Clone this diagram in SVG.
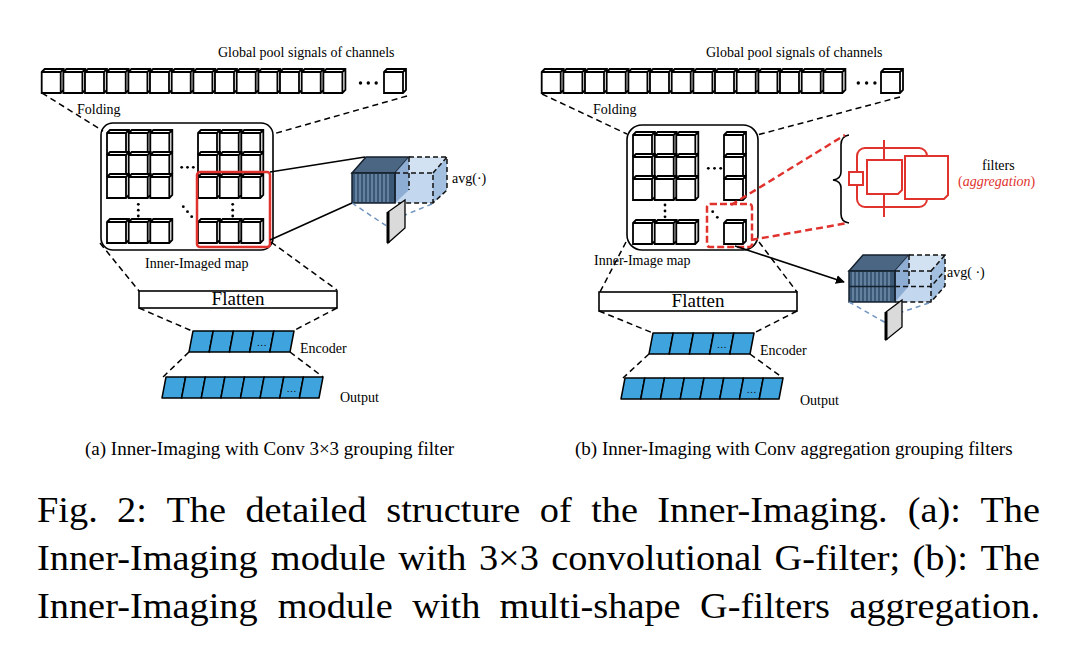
<svg xmlns="http://www.w3.org/2000/svg" width="1074" height="666" viewBox="0 0 1074 666">
<style>
text{font-family:"Liberation Serif","Times New Roman",serif;fill:#000}
.lbl{font-size:14px}
.cap{font-size:19px}
.big{font-size:35.2px}
.dash{fill:none;stroke:#000;stroke-width:1.5;stroke-dasharray:6,4}
.solid{fill:none;stroke:#000;stroke-width:1.6}
.box{fill:none;stroke:#000;stroke-width:1.6}
.cell{fill:#3fa4de;stroke:#000;stroke-width:1.5;stroke-linejoin:round}
.dot{fill:#000}
.red{fill:none;stroke:#e0332e;stroke-width:2.5}
.redf{fill:#fff;stroke:#e0332e;stroke-width:2}
.bdash{fill:none;stroke:#6f93c0;stroke-width:1.5;stroke-dasharray:5,4}
.ldash{fill:none;stroke:#111;stroke-width:1.5;stroke-dasharray:5,3}
.dk{stroke:#16222f;stroke-width:1.5}
</style>
<defs>
<g id="cube"><path d="M0,0 L3,-3 L22,-3 L22,18 L19,21 L0,21 Z M0,0 H19 V21 M19,0 L22,-3" fill="#fff" stroke="#000" stroke-width="1.8" stroke-linejoin="miter"/></g>
<marker id="arr" viewBox="0 0 10 10" refX="9" refY="5" markerWidth="9" markerHeight="9" markerUnits="userSpaceOnUse" orient="auto"><path d="M0,0 L10,5 L0,10 Z" fill="#000"/></marker>
</defs>

<!-- ===================== PANEL A ===================== -->
<g id="a-signals">
<use href="#cube" x="41.7" y="72"/><use href="#cube" x="63.4" y="72"/><use href="#cube" x="85" y="72"/><use href="#cube" x="106.7" y="72"/><use href="#cube" x="128.4" y="72"/><use href="#cube" x="150" y="72"/><use href="#cube" x="171.7" y="72"/><use href="#cube" x="193.4" y="72"/><use href="#cube" x="215" y="72"/><use href="#cube" x="236.7" y="72"/><use href="#cube" x="258.4" y="72"/><use href="#cube" x="280" y="72"/><use href="#cube" x="301.7" y="72"/><use href="#cube" x="323.4" y="72"/>
<circle class="dot" cx="360.5" cy="83" r="1.7"/><circle class="dot" cx="368.3" cy="83" r="1.7"/><circle class="dot" cx="376.2" cy="83" r="1.7"/>
<use href="#cube" x="384" y="72"/>
<text class="lbl" x="218" y="57">Global pool signals of channels</text>
</g>

<g id="a-map">
<rect class="box" x="101" y="123" width="172" height="127" rx="12"/>
<use href="#cube" x="107" y="133"/><use href="#cube" x="128.7" y="133"/><use href="#cube" x="150.3" y="133"/>
<use href="#cube" x="198" y="133"/><use href="#cube" x="219.7" y="133"/><use href="#cube" x="241.3" y="133"/>
<use href="#cube" x="107" y="155"/><use href="#cube" x="128.7" y="155"/><use href="#cube" x="150.3" y="155"/>
<use href="#cube" x="198" y="155"/><use href="#cube" x="219.7" y="155"/><use href="#cube" x="241.3" y="155"/>
<use href="#cube" x="107" y="177"/><use href="#cube" x="128.7" y="177"/><use href="#cube" x="150.3" y="177"/>
<use href="#cube" x="198" y="177"/><use href="#cube" x="219.7" y="177"/><use href="#cube" x="241.3" y="177"/>
<use href="#cube" x="107" y="222"/><use href="#cube" x="128.7" y="222"/><use href="#cube" x="150.3" y="222"/>
<use href="#cube" x="198" y="222"/><use href="#cube" x="219.7" y="222"/><use href="#cube" x="241.3" y="222"/>
<circle class="dot" cx="181.7" cy="167.3" r="1.4"/><circle class="dot" cx="187.5" cy="167.3" r="1.4"/><circle class="dot" cx="193.3" cy="167.3" r="1.4"/>
<circle class="dot" cx="138.3" cy="204.3" r="1.4"/><circle class="dot" cx="138.3" cy="210.2" r="1.4"/><circle class="dot" cx="138.3" cy="216" r="1.4"/>
<circle class="dot" cx="232.7" cy="204.3" r="1.4"/><circle class="dot" cx="232.7" cy="210.2" r="1.4"/><circle class="dot" cx="232.7" cy="216" r="1.4"/>
<circle class="dot" cx="183.3" cy="206.7" r="1.4"/><circle class="dot" cx="187.5" cy="211.7" r="1.4"/><circle class="dot" cx="191.7" cy="216.7" r="1.4"/>
<rect class="red" x="197" y="172" width="73" height="75" rx="3"/>
<text class="lbl" x="145" y="268">Inner-Imaged map</text>
</g>

<g id="a-block">
<polygon points="352,173 366,157 447,157 433,173" fill="#d3e2f2"/>
<polygon points="433,173 447,157 447,190 433,203" fill="#a3c0e0"/>
<rect x="352" y="173" width="81" height="30" fill="#c3d7ee"/>
<polygon points="352,173 366,157 409,157 395,173" fill="#4b6683" class="dk"/>
<polygon points="395,173 409,157 409,190 395,203" fill="#88a9d0" opacity="0.9"/>
<rect x="352" y="173" width="43" height="30" fill="#3b5877" class="dk"/>
<path d="M356,174V202M360,174V202M364,174V202M368,174V202M372,174V202M376,174V202M380,174V202M384,174V202M388,174V202" stroke="#8ea9c6" stroke-width="1"/>
<path class="ldash" d="M409,157H447V190L433,203H395M395,173H433V203M433,173L447,157M409,157V190"/>
<line x1="395" y1="173" x2="395" y2="203" stroke="#16222f" stroke-width="1.5"/>
<path class="bdash" d="M352,203L388,227M432,204L405,215"/>
<polygon points="388,212 405,200 405,228 388,243" fill="#dadada" stroke="#000" stroke-width="1.3"/>
<line x1="388" y1="212" x2="388" y2="243" stroke="#000" stroke-width="3"/>
<text class="lbl" x="452" y="183">avg(·)</text>
</g>

<g id="a-flatten">
<rect class="box" x="139" y="291" width="198" height="17"/>
<text x="238" y="305" font-size="19" text-anchor="middle">Flatten</text>
</g>

<g id="a-encoder">
<polygon class="cell" points="193,331 213.2,331 209.2,352 189,352"/>
<polygon class="cell" points="213.2,331 233.4,331 229.4,352 209.2,352"/>
<polygon class="cell" points="233.4,331 253.6,331 249.6,352 229.4,352"/>
<polygon class="cell" points="253.6,331 273.8,331 269.8,352 249.6,352"/>
<polygon class="cell" points="273.8,331 294,331 290,352 269.8,352"/>
<text x="261.7" y="346" font-size="10" text-anchor="middle">…</text>
<text class="lbl" x="300" y="353">Encoder</text>
</g>

<g id="a-output">
<polygon class="cell" points="166,377 185.6,377 181.6,398 162,398"/>
<polygon class="cell" points="185.6,377 205.3,377 201.3,398 181.6,398"/>
<polygon class="cell" points="205.3,377 224.9,377 220.9,398 201.3,398"/>
<polygon class="cell" points="224.9,377 244.5,377 240.5,398 220.9,398"/>
<polygon class="cell" points="244.5,377 264.1,377 260.1,398 240.5,398"/>
<polygon class="cell" points="264.1,377 283.8,377 279.8,398 260.1,398"/>
<polygon class="cell" points="283.8,377 303.4,377 299.4,398 279.8,398"/>
<polygon class="cell" points="303.4,377 323,377 319,398 299.4,398"/>
<text x="291.6" y="392" font-size="10" text-anchor="middle">…</text>
<text class="lbl" x="340" y="402">Output</text>
</g>

<g id="a-connectors">
<path class="dash" d="M42,93L103,131M407,96L273,134"/>
<text class="lbl" x="77" y="114">Folding</text>
<path class="solid" d="M270,172L365,157M270,240L352,203"/>
<path class="dash" d="M100,243L139,291M271,242L337,290"/>
<path class="dash" d="M139,308L192,331M337,308L293,331"/>
<path class="dash" d="M189,352L163,377M290,352L323,377"/>
</g>

<text class="cap" x="85" y="455">(a) Inner-Imaging with Conv 3×3 grouping filter</text>

<!-- ===================== PANEL B ===================== -->
<g id="b-signals">
<use href="#cube" x="541.7" y="72"/><use href="#cube" x="563.4" y="72"/><use href="#cube" x="585" y="72"/><use href="#cube" x="606.7" y="72"/><use href="#cube" x="628.4" y="72"/><use href="#cube" x="650" y="72"/><use href="#cube" x="671.7" y="72"/><use href="#cube" x="693.4" y="72"/><use href="#cube" x="715" y="72"/><use href="#cube" x="736.7" y="72"/><use href="#cube" x="758.4" y="72"/><use href="#cube" x="780" y="72"/><use href="#cube" x="801.7" y="72"/><use href="#cube" x="823.4" y="72"/>
<circle class="dot" cx="858.3" cy="83" r="1.7"/><circle class="dot" cx="866.6" cy="83" r="1.7"/><circle class="dot" cx="874.9" cy="83" r="1.7"/>
<use href="#cube" x="881" y="72"/>
<text class="lbl" x="706" y="57">Global pool signals of channels</text>
</g>

<g id="b-map">
<rect class="box" x="627" y="125" width="131" height="125" rx="15"/>
<use href="#cube" x="633" y="135"/><use href="#cube" x="654.7" y="135"/><use href="#cube" x="676.3" y="135"/><use href="#cube" x="724" y="135"/>
<use href="#cube" x="633" y="157"/><use href="#cube" x="654.7" y="157"/><use href="#cube" x="676.3" y="157"/><use href="#cube" x="724" y="157"/>
<use href="#cube" x="633" y="179"/><use href="#cube" x="654.7" y="179"/><use href="#cube" x="676.3" y="179"/><use href="#cube" x="724" y="179"/>
<use href="#cube" x="633" y="223"/><use href="#cube" x="654.7" y="223"/><use href="#cube" x="676.3" y="223"/><use href="#cube" x="724" y="223"/>
<circle class="dot" cx="708.3" cy="168.3" r="1.4"/><circle class="dot" cx="714.5" cy="168.3" r="1.4"/><circle class="dot" cx="720.7" cy="168.3" r="1.4"/>
<circle class="dot" cx="665" cy="205" r="1.4"/><circle class="dot" cx="665" cy="211" r="1.4"/><circle class="dot" cx="665" cy="216.8" r="1.4"/>
<circle class="dot" cx="712.7" cy="211.7" r="1.4"/><circle class="dot" cx="717.3" cy="217.3" r="1.4"/>
<rect class="red" x="707" y="204" width="45" height="43" rx="3" stroke-dasharray="7,3"/>
<text class="lbl" x="594" y="265">Inner-Image map</text>
</g>

<g id="b-filters">
<rect x="857" y="148" width="70" height="59" rx="8" fill="none" stroke="#e0332e" stroke-width="2"/>
<line x1="884" y1="140" x2="884" y2="217" stroke="#e0332e" stroke-width="2"/>
<rect class="redf" x="849" y="172" width="14" height="13"/>
<path class="redf" d="M867,160H902V190L898,194H867Z"/>
<path class="redf" d="M905,156H948V195L944,199H905Z"/>
<path d="M849,135Q841,136 841,145V172Q841,179 833,180Q841,181 841,188V214Q841,222 849,223" fill="none" stroke="#000" stroke-width="1.6"/>
<text class="lbl" x="982" y="170">filters</text>
<text class="lbl" x="958" y="186" style="fill:#e0332e"><tspan>(</tspan><tspan font-style="italic">aggregation</tspan><tspan>)</tspan></text>
</g>

<g id="b-block">
<polygon points="849,271 863,255 945,255 931,271" fill="#d3e2f2"/>
<polygon points="931,271 945,255 945,286 931,302" fill="#a3c0e0"/>
<rect x="849" y="271" width="82" height="31" fill="#c3d7ee"/>
<polygon points="849,271 863,255 909,255 895,271" fill="#4b6683" class="dk"/>
<polygon points="895,271 909,255 909,286 895,302" fill="#88a9d0" opacity="0.9"/>
<rect x="849" y="271" width="46" height="31" fill="#3b5877" class="dk"/>
<path d="M853,272V301M857,272V301M861,272V301M865,272V301M869,272V301M873,272V301M877,272V301M881,272V301M885,272V301M889,272V301" stroke="#8ea9c6" stroke-width="1"/>
<line x1="849" y1="286.5" x2="895" y2="286.5" stroke="#16222f" stroke-width="1.5"/>
<path class="ldash" d="M909,255H945V286L931,302H895M895,271H931V302M931,271L945,255M895,286.5H931L945,270.5M909,255V286"/>
<line x1="895" y1="271" x2="895" y2="302" stroke="#16222f" stroke-width="1.5"/>
<path class="bdash" d="M849,302L886,323M929,303L902,312"/>
<polygon points="886,312 902,300 902,327 886,340" fill="#dadada" stroke="#000" stroke-width="1.3"/>
<line x1="886" y1="312" x2="886" y2="340" stroke="#000" stroke-width="3"/>
<text class="lbl" x="947" y="277">avg( ·)</text>
</g>

<g id="b-flatten">
<rect class="box" x="599" y="292" width="198" height="19"/>
<text x="698" y="307" font-size="19" text-anchor="middle">Flatten</text>
</g>

<g id="b-encoder">
<polygon class="cell" points="653,333 673.2,333 669.2,354 649,354"/>
<polygon class="cell" points="673.2,333 693.4,333 689.4,354 669.2,354"/>
<polygon class="cell" points="693.4,333 713.6,333 709.6,354 689.4,354"/>
<polygon class="cell" points="713.6,333 733.8,333 729.8,354 709.6,354"/>
<polygon class="cell" points="733.8,333 754,333 750,354 729.8,354"/>
<text x="721.7" y="348" font-size="10" text-anchor="middle">…</text>
<text class="lbl" x="760" y="355">Encoder</text>
</g>

<g id="b-output">
<polygon class="cell" points="625,378 644.75,378 640.75,399 621,399"/>
<polygon class="cell" points="644.75,378 664.5,378 660.5,399 640.75,399"/>
<polygon class="cell" points="664.5,378 684.25,378 680.25,399 660.5,399"/>
<polygon class="cell" points="684.25,378 704,378 700,399 680.25,399"/>
<polygon class="cell" points="704,378 723.75,378 719.75,399 700,399"/>
<polygon class="cell" points="723.75,378 743.5,378 739.5,399 719.75,399"/>
<polygon class="cell" points="743.5,378 763.25,378 759.25,399 739.5,399"/>
<polygon class="cell" points="763.25,378 783,378 779,399 759.25,399"/>
<text x="751.5" y="393" font-size="10" text-anchor="middle">…</text>
<text class="lbl" x="800" y="405">Output</text>
</g>

<g id="b-connectors">
<path class="dash" d="M542,94L627,134M900,97L757,135"/>
<text class="lbl" x="593" y="114">Folding</text>
<path class="red" stroke-width="2" stroke-dasharray="7,4" d="M731,205L845,135M751,240L848,223"/>
<path class="solid" d="M735,246L844,282" marker-end="url(#arr)"/>
<path class="dash" d="M626,242L600,292M759,242L797,292"/>
<path class="dash" d="M599,311L653,333M797,311L754,333"/>
<path class="dash" d="M649,354L623,378M750,354L783,378"/>
</g>

<text class="cap" x="575" y="455">(b) Inner-Imaging with Conv aggregation grouping filters</text>

<!-- ===================== FIGURE CAPTION ===================== -->
<g id="figcaption">
<text class="big" transform="translate(37,522) scale(1.09,1)"><tspan x="0">Fig.</tspan><tspan x="73.5">2:</tspan><tspan x="118.7">The</tspan><tspan x="191.2">detailed</tspan><tspan x="320.4">structure</tspan><tspan x="461.3">of</tspan><tspan x="508.4">the</tspan><tspan x="569.1">Inner-Imaging.</tspan><tspan x="798.9">(a):</tspan><tspan x="920.2" text-anchor="end">The</tspan></text>
<text class="big" transform="translate(37,570) scale(1.09,1)"><tspan x="0">Inner-Imaging</tspan><tspan x="214.5">module</tspan><tspan x="331.5">with</tspan><tspan x="405.4">3×3</tspan><tspan x="471.7">convolutional</tspan><tspan x="676.7">G-filter;</tspan><tspan x="803.3">(b):</tspan><tspan x="920.2" text-anchor="end">The</tspan></text>
<text class="big" transform="translate(37,618) scale(1.09,1)"><tspan x="0">Inner-Imaging</tspan><tspan x="220.9">module</tspan><tspan x="344.2">with</tspan><tspan x="424.4">multi-shape</tspan><tspan x="608.3">G-filters</tspan><tspan x="920.2" text-anchor="end">aggregation.</tspan></text>
</g>
</svg>
